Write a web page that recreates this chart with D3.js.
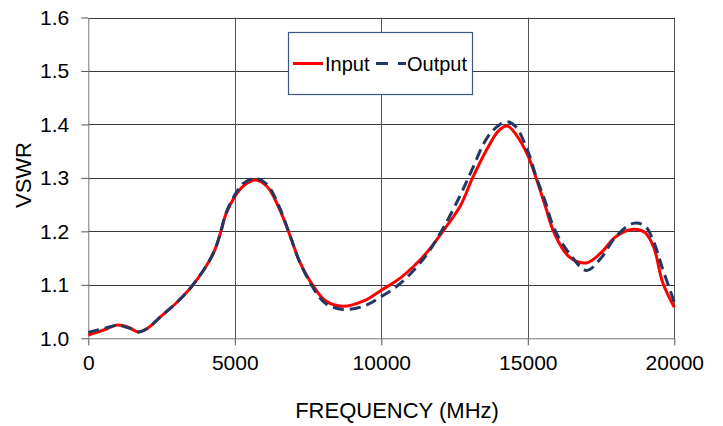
<!DOCTYPE html>
<html>
<head>
<meta charset="utf-8">
<script src="https://cdn.jsdelivr.net/npm/d3@7"></script>
<style>
  body { margin: 0; background: #fff; }
  text { font-family: "Liberation Sans", Arial, sans-serif; fill: #000; }
</style>
</head>
<body>
<div class="mydiv"></div>
<script>
//------------------------------------------------ DATA ----------------------------------------------------

var freq = [0, 500, 1000, 1400, 1700, 2000, 2500, 3000, 3500, 4000, 4300, 4500, 4700, 5000, 5300, 5700,
            6100, 6500, 6900, 7200, 7700, 8100, 8700, 9400, 10000, 10700, 11500, 12100, 12700, 13100,
            13600, 14000, 14300, 14600, 15000, 15300, 15600, 15900, 16400, 17000, 17500, 18000, 18600,
            19000, 19300, 19600, 20000];

var inputVswr = [1.006, 1.015, 1.025, 1.020, 1.012, 1.018, 1.042, 1.066, 1.095, 1.133, 1.163, 1.195, 1.233,
                 1.265, 1.285, 1.296, 1.284, 1.245, 1.190, 1.145, 1.096, 1.070, 1.060, 1.070, 1.090, 1.115,
                 1.157, 1.200, 1.248, 1.298, 1.353, 1.388, 1.397, 1.381, 1.342, 1.297, 1.247, 1.197, 1.153,
                 1.141, 1.160, 1.190, 1.204, 1.198, 1.170, 1.105, 1.058];

var outputVswr = [1.011, 1.018, 1.024, 1.019, 1.012, 1.018, 1.042, 1.066, 1.095, 1.133, 1.163, 1.195, 1.234,
                  1.268, 1.290, 1.299, 1.288, 1.248, 1.190, 1.145, 1.092, 1.065, 1.054, 1.060, 1.078, 1.105,
                  1.153, 1.205, 1.268, 1.316, 1.374, 1.398, 1.405, 1.395, 1.350, 1.300, 1.255, 1.205, 1.160,
                  1.127, 1.150, 1.190, 1.215, 1.210, 1.180, 1.130, 1.068];

var xTicks = [0, 5000, 10000, 15000, 20000];
var yTicks = [1.0, 1.1, 1.2, 1.3, 1.4, 1.5, 1.6];
var seriesNames = ["Input", "Output"];

//------------------------------------------------ SVG ----------------------------------------------------

var width = 723;
var height = 426;

var svg = d3.select(".mydiv").append("svg")
    .attr("width", width)
    .attr("height", height);

var x = d3.scaleLinear().domain([0, 20000]).range([88.3, 674.3]);
var y = d3.scaleLinear().domain([1.0, 1.6]).range([338.3, 17.5]);

// grid
svg.append("g").selectAll("line.h")
    .data(yTicks.slice(1))
    .enter().append("line")
    .attr("x1", x(0)).attr("x2", x(20000))
    .attr("y1", function(d) { return Math.round(y(d)) + 0.5; })
    .attr("y2", function(d) { return Math.round(y(d)) + 0.5; })
    .attr("stroke", "#3a3a3a").attr("stroke-width", 1);

svg.append("g").selectAll("line.v")
    .data(xTicks.slice(1))
    .enter().append("line")
    .attr("y1", y(1.0)).attr("y2", y(1.6))
    .attr("x1", function(d) { return Math.round(x(d)) + 0.5; })
    .attr("x2", function(d) { return Math.round(x(d)) + 0.5; })
    .attr("stroke", "#555").attr("stroke-width", 1);

// axes
var xAxis = d3.axisBottom(x).tickValues(xTicks).tickFormat(d3.format("d")).tickSizeInner(7).tickSizeOuter(0).tickPadding(10);
var yAxis = d3.axisLeft(y).tickValues(yTicks).tickFormat(d3.format(".1f")).tickSizeInner(7).tickSizeOuter(0).tickPadding(12);

var gx = svg.append("g")
    .attr("transform", "translate(0," + (Math.round(y(1.0)) + 0.5 - y(1.0)) + ")")
    .attr("transform", "translate(0," + y(1.0) + ")")
    .call(xAxis);
var gy = svg.append("g")
    .attr("transform", "translate(" + x(0) + ",0)")
    .call(yAxis);

[gx, gy].forEach(function(g) {
    g.select(".domain").attr("stroke", "#777");
    g.selectAll(".tick line").attr("stroke", "#555");
    g.selectAll(".tick text").style("font-size", "21px").attr("fill", "#000");
});

svg.append("text")
    .attr("x", 397).attr("y", 418)
    .attr("text-anchor", "middle")
    .style("font-size", "22px")
    .text("FREQUENCY (MHz)");

svg.append("text")
    .attr("transform", "translate(31,175) rotate(-90)")
    .attr("text-anchor", "middle")
    .style("font-size", "22px")
    .text("VSWR");

// curves
var line = d3.line()
    .x(function(d, i) { return x(freq[i]); })
    .y(function(d) { return y(d); })
    .curve(d3.curveCatmullRom.alpha(0.5));

svg.append("path")
    .datum(inputVswr)
    .attr("d", line)
    .attr("fill", "none")
    .attr("stroke", "#ff0000")
    .attr("stroke-width", 3);

svg.append("path")
    .datum(outputVswr)
    .attr("d", line)
    .attr("fill", "none")
    .attr("stroke", "#1f3864")
    .attr("stroke-width", 3)
    .attr("stroke-dasharray", "11,6");

//------------------------------------------------ LEGEND ----------------------------------------------------

var legend = svg.append("g");

legend.append("rect")
    .attr("x", 288.5).attr("y", 32.5)
    .attr("width", 184).attr("height", 62)
    .attr("fill", "#fff")
    .attr("stroke", "#3b5585").attr("stroke-width", 1.2);

legend.append("line")
    .attr("x1", 293).attr("x2", 323).attr("y1", 63.5).attr("y2", 63.5)
    .attr("stroke", "#ff0000").attr("stroke-width", 3);
legend.append("text")
    .attr("x", 325).attr("y", 70.5)
    .style("font-size", "20px")
    .text(seriesNames[0]);

legend.append("line")
    .attr("x1", 376).attr("x2", 406).attr("y1", 63.5).attr("y2", 63.5)
    .attr("stroke", "#1f3864").attr("stroke-width", 3)
    .attr("stroke-dasharray", "12,10");
legend.append("text")
    .attr("x", 407).attr("y", 70.5)
    .style("font-size", "20px")
    .text(seriesNames[1]);
</script>
</body>
</html>
